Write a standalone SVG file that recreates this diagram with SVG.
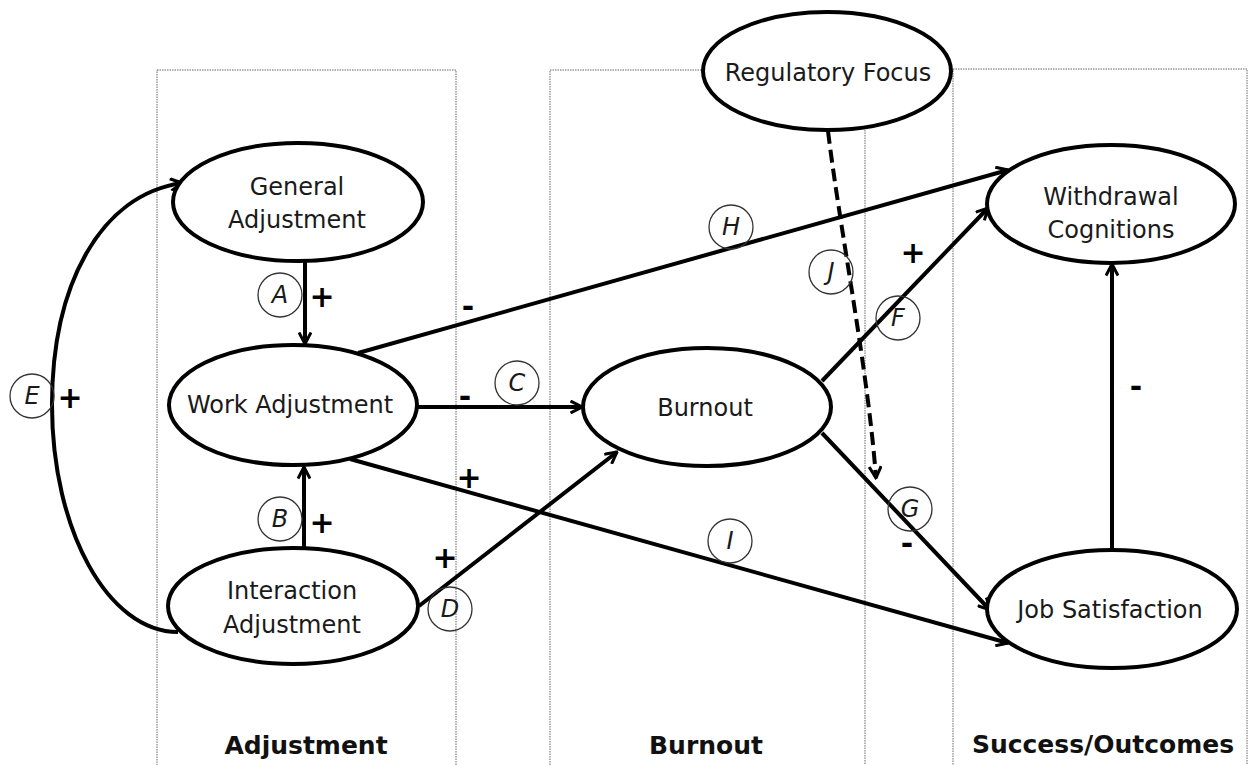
<svg xmlns="http://www.w3.org/2000/svg" width="1251" height="765" viewBox="0 0 1251 765">
<style>
.panel{fill:none;stroke:#666;stroke-width:1;stroke-dasharray:1.5,1}
.node{fill:#fff;stroke:#000;stroke-width:4}
.lbl{font-family:"DejaVu Sans",sans-serif;font-size:24px;fill:#1a1a1a;text-anchor:middle}
.title{font-family:"DejaVu Sans",sans-serif;font-size:25px;font-weight:bold;fill:#111;text-anchor:middle}
.edge{fill:none;stroke:#000;stroke-width:4}
.dash{stroke-dasharray:13,6}
.tag{fill:none;stroke:#333;stroke-width:1.3}
.tagt{font-family:"DejaVu Sans",sans-serif;font-size:24px;font-style:italic;fill:#1a1a1a;text-anchor:middle}
.sign{font-family:"DejaVu Sans",sans-serif;font-size:30px;font-weight:bold;fill:#000;text-anchor:middle}
</style>
<defs>
<marker id="arr" viewBox="0 0 14 14" refX="12.5" refY="7" markerWidth="14" markerHeight="14" markerUnits="userSpaceOnUse" orient="auto">
<path d="M1,1 L12.5,7 L1,13" fill="none" stroke="#000" stroke-width="3"/>
</marker>
</defs>
<rect width="1251" height="765" fill="#fff"/>
<g id="panels">
<rect class="panel" x="157" y="70" width="299" height="720"/>
<rect class="panel" x="550" y="70" width="315" height="720"/>
<rect class="panel" x="953" y="69" width="294" height="720"/>
<text class="title" x="306" y="754">Adjustment</text>
<text class="title" x="706" y="754">Burnout</text>
<text class="title" x="1103" y="753">Success/Outcomes</text>
</g>
<g id="connectors">
<path class="edge" d="M305,262 L305,344" marker-end="url(#arr)"/>
<path class="edge" d="M304,551 L304,467" marker-end="url(#arr)"/>
<path class="edge" d="M178,632 C108,632 52,530 52,405 C52,285 100,195 182,183" marker-end="url(#arr)"/>
<path class="edge" d="M417,407 L582,407" marker-end="url(#arr)"/>
<path class="edge" d="M419,606 L617,452" marker-end="url(#arr)"/>
<path class="edge" d="M358,353 L1008,170" marker-end="url(#arr)"/>
<path class="edge" d="M350,459 L1008,643" marker-end="url(#arr)"/>
<path class="edge" d="M822,381 L988,208" marker-end="url(#arr)"/>
<path class="edge" d="M822,433 L990,610" marker-end="url(#arr)"/>
<path class="edge" d="M1112,550 L1112,264" marker-end="url(#arr)"/>
<path class="edge dash" d="M828,131 C840,230 868,370 876,478" marker-end="url(#arr)"/>
</g>
<g id="n-general"><ellipse class="node" cx="298" cy="202" rx="125" ry="59"/><text class="lbl" x="297" y="195">General</text><text class="lbl" x="297" y="228">Adjustment</text></g>
<g id="n-work"><ellipse class="node" cx="293" cy="405" rx="124" ry="60"/><text class="lbl" x="290" y="413">Work Adjustment</text></g>
<g id="n-interaction"><ellipse class="node" cx="293" cy="606" rx="125" ry="58"/><text class="lbl" x="292" y="599">Interaction</text><text class="lbl" x="292" y="633">Adjustment</text></g>
<g id="n-regulatory"><ellipse class="node" cx="827" cy="71" rx="124" ry="59"/><text class="lbl" x="828" y="81">Regulatory Focus</text></g>
<g id="n-burnout"><ellipse class="node" cx="707" cy="407" rx="124" ry="59"/><text class="lbl" x="705" y="416">Burnout</text></g>
<g id="n-withdrawal"><ellipse class="node" cx="1111" cy="204" rx="124" ry="59"/><text class="lbl" x="1111" y="205">Withdrawal</text><text class="lbl" x="1111" y="238">Cognitions</text></g>
<g id="n-jobsat"><ellipse class="node" cx="1112" cy="609" rx="125" ry="59"/><text class="lbl" x="1110" y="618">Job Satisfaction</text></g>
<g id="tags">
<circle class="tag" cx="280" cy="295" r="22"/><text class="tagt" x="280" y="303">A</text>
<circle class="tag" cx="280" cy="519" r="22"/><text class="tagt" x="280" y="527">B</text>
<circle class="tag" cx="517" cy="383" r="22"/><text class="tagt" x="517" y="391">C</text>
<circle class="tag" cx="450" cy="609" r="22"/><text class="tagt" x="450" y="617">D</text>
<circle class="tag" cx="32" cy="396" r="22"/><text class="tagt" x="32" y="404">E</text>
<circle class="tag" cx="898" cy="318" r="22"/><text class="tagt" x="898" y="326">F</text>
<circle class="tag" cx="910" cy="509" r="22"/><text class="tagt" x="910" y="517">G</text>
<circle class="tag" cx="731" cy="227" r="22"/><text class="tagt" x="731" y="235">H</text>
<circle class="tag" cx="730" cy="541" r="22"/><text class="tagt" x="730" y="549">I</text>
<circle class="tag" cx="831" cy="272" r="22"/><text class="tagt" x="831" y="280">J</text>
</g>
<g id="signs">
<text class="sign" x="322" y="307">+</text>
<text class="sign" x="322" y="533">+</text>
<text class="sign" x="70" y="408">+</text>
<text class="sign" x="468" y="317">-</text>
<text class="sign" x="465" y="407">-</text>
<text class="sign" x="469" y="488">+</text>
<text class="sign" x="445" y="568">+</text>
<text class="sign" x="913" y="263">+</text>
<text class="sign" x="907" y="554">-</text>
<text class="sign" x="1136" y="397">-</text>
</g>
</svg>
